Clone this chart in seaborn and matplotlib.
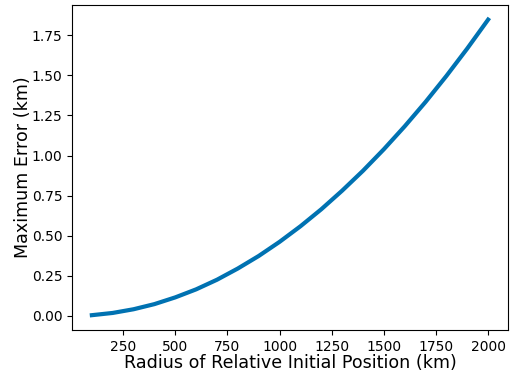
import matplotlib
matplotlib.use("Agg")
import matplotlib.pyplot as plt
import seaborn as sns
import pandas as pd

radius_km = [100, 200, 300, 400, 500, 600, 700, 800, 900, 1000,
             1100, 1200, 1300, 1400, 1500, 1600, 1700, 1800, 1900, 2000]
max_error_km = [0.005, 0.019, 0.042, 0.074, 0.116, 0.166, 0.226, 0.296, 0.374, 0.462,
                0.559, 0.665, 0.781, 0.905, 1.039, 1.182, 1.334, 1.496, 1.667, 1.847]

plt.rcParams['font.family'] = ['DejaVu Sans']

df = pd.DataFrame({"r": radius_km, "e": max_error_km})
fig = plt.figure(figsize=(5.11, 3.72), dpi=100)
ax = fig.add_axes([0.141, 0.113, 0.853, 0.874])
sns.lineplot(data=df, x="r", y="e", ax=ax, color="#0072B2", linewidth=3)
ax.set_xticks([250, 500, 750, 1000, 1250, 1500, 1750, 2000])
ax.set_yticks([0.0, 0.25, 0.5, 0.75, 1.0, 1.25, 1.5, 1.75])
ax.set_yticklabels(["0.00", "0.25", "0.50", "0.75", "1.00", "1.25", "1.50", "1.75"])
ax.tick_params(labelsize=10)
ax.set_xlabel("Radius of Relative Initial Position (km)", fontsize=12.6, labelpad=0.5)
ax.set_ylabel("Maximum Error (km)", fontsize=12.6, labelpad=-0.5)
fig.savefig("out.png", dpi=100)
